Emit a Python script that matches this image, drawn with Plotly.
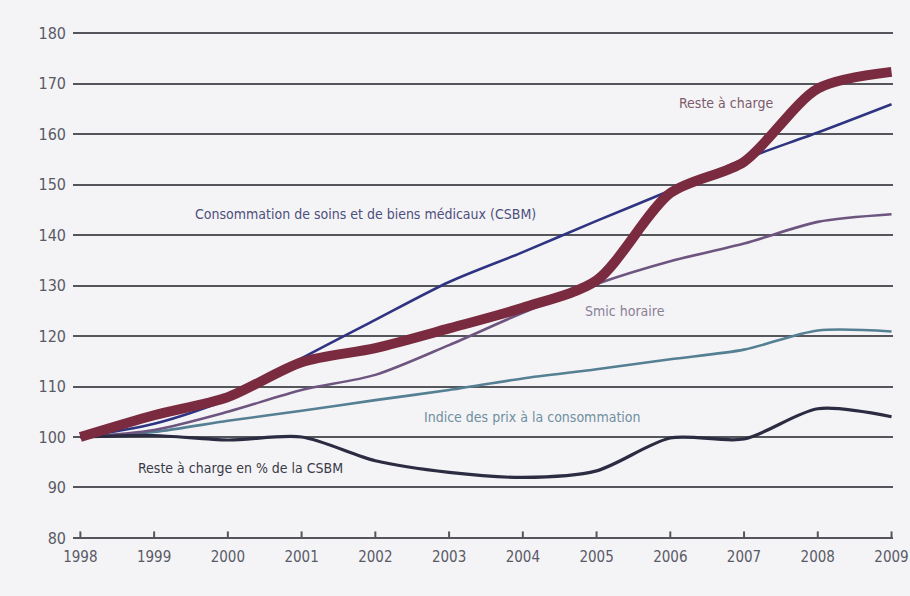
import plotly.graph_objects as go

years = [1998, 1999, 2000, 2001, 2002, 2003, 2004, 2005, 2006, 2007, 2008, 2009]
reste_charge = [100, 104.3, 107.9, 114.8, 117.6, 121.5, 125.6, 131.0, 148.3, 154.5, 169.0, 172.3]
csbm = [100, 102.6, 107.5, 115.6, 123.2, 130.7, 136.6, 142.8, 148.8, 155.0, 160.3, 165.9]
smic = [100, 101.4, 105.0, 109.3, 112.3, 118.2, 124.6, 130.3, 134.8, 138.3, 142.6, 144.1]
ipc = [100, 101.0, 103.2, 105.2, 107.3, 109.3, 111.6, 113.4, 115.4, 117.3, 121.1, 120.9]
reste_pct = [100, 100.3, 99.4, 100.0, 95.3, 93.0, 92.0, 93.3, 99.8, 99.6, 105.6, 104.0]

y_ticks = [80, 90, 100, 110, 120, 130, 140, 150, 160, 170, 180]

labels = [
    ("Reste à charge", 2006.75, 166.1, "#7d5b6c"),
    ("Consommation de soins et de biens médicaux (CSBM)", 2001.86, 144.2, "#4e4f7c"),
    ("Smic horaire", 2005.39, 124.9, "#8a8096"),
    ("Indice des prix à la consommation", 2004.13, 104.0, "#6f8f9e"),
    ("Reste à charge en % de la CSBM", 2000.17, 93.9, "#3a3a48"),
]

FONT = "DejaVu Sans Condensed, DejaVu Sans"

fig = go.Figure()
series = [
    (ipc, "#557f93", 2.6),
    (smic, "#6e5580", 2.6),
    (reste_pct, "#2b2b42", 3.2),
    (csbm, "#2f3482", 2.6),
    (reste_charge, "#7a2b40", 10),
]
for vals, col, w in series:
    fig.add_trace(go.Scatter(
        x=years, y=vals, mode="lines",
        line=dict(color=col, width=w, shape="spline", smoothing=0.8),
        showlegend=False, hoverinfo="skip", cliponaxis=False))

for txt, x, y, col in labels:
    fig.add_annotation(x=x, y=y, text=txt, showarrow=False,
                       font=dict(family=FONT, size=14, color=col))

fig.update_layout(
    width=910, height=596,
    margin=dict(l=73, r=17, t=32, b=57),
    paper_bgcolor="#f4f4f6", plot_bgcolor="#f4f4f6",
    xaxis=dict(range=[1997.9, 2009.02], tickvals=years, ticktext=[str(y) for y in years],
               showgrid=False, zeroline=False, showline=False, automargin=False,
               ticks="", tickfont=dict(family=FONT, size=15, color="#5a5a66"),
               ticklabelstandoff=7),
    yaxis=dict(range=[79.8, 180.2], tickvals=y_ticks, showgrid=True, gridcolor="#55555c",
               gridwidth=2, zeroline=False, showline=False, ticks="", automargin=False,
               tickfont=dict(family=FONT, size=16, color="#5a5a66"),
               ticklabelstandoff=6),
)

# bottom axis with upward ticks drawn from the axis scale
fig.add_shape(type="line", xref="x", yref="y", x0=years[0], x1=years[-1], y0=80, y1=80,
              line=dict(color="#55555c", width=2))
for yr in years:
    fig.add_shape(type="line", xref="x", yref="y", x0=yr, x1=yr, y0=80, y1=81.3,
                  line=dict(color="#55555c", width=2))

fig.write_html("out.html")
